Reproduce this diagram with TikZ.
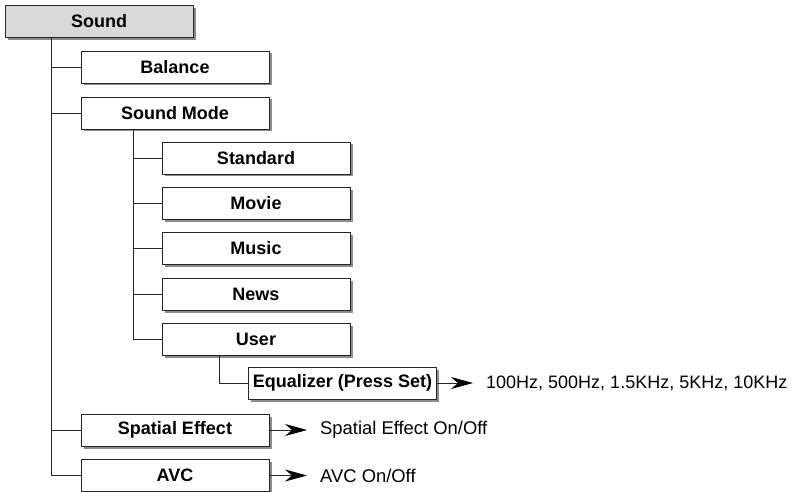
\documentclass[tikz,border=0pt]{standalone}
\usepackage{fontspec}
\setmainfont{Liberation Sans}
\usetikzlibrary{shadows,arrows.meta}
\begin{document}
\begin{tikzpicture}[x=1pt,y=-1pt,
  box/.style={draw=black!85, line width=0.9pt, fill=white, rectangle, minimum width=188pt, minimum height=32pt, inner sep=0pt,
    font=\fontsize{18pt}{20pt}\selectfont\bfseries,
    drop shadow={shadow xshift=2.5pt, shadow yshift=-2.5pt, fill=black!45, opacity=1}},
  rootbox/.style={box, fill=black!15},
  conn/.style={draw=black!85, line width=0.9pt},
  arr/.style={conn, -{Stealth[length=22pt,width=12pt,inset=7pt,color=black]}},
  lbl/.style={anchor=west, inner sep=0pt, font=\fontsize{18.4pt}{20pt}\selectfont}
]
\useasboundingbox (0,0) rectangle (793,492);
\fill[white] (0,0) rectangle (793,492);

\node[rootbox] (sound) at (99,21.5) {Sound};
\node[box] (balance) at (175,67) {Balance};
\node[box] (mode) at (175,113) {Sound Mode};
\node[box] (standard) at (256,158) {Standard};
\node[box] (movie) at (256,203.5) {Movie};
\node[box] (music) at (256,248.5) {Music};
\node[box] (news) at (256,294.5) {News};
\node[box] (user) at (256,339.5) {User};
\node[box] (eq) at (342.5,383) {Equalizer (Press Set)};
\node[box] (spatial) at (175,430) {Spatial Effect};
\node[box] (avc) at (175,475.5) {AVC};

\node[lbl, font=\fontsize{18pt}{20pt}\selectfont] (eqt) at (486,383) {100Hz, 500Hz, 1.5KHz, 5KHz, 10KHz};
\node[lbl] (spt) at (320,430) {Spatial Effect On/Off};
\node[lbl] (avct) at (320,475.5) {AVC On/Off};

\foreach \c in {balance,mode,spatial,avc}
  \draw[conn] ([xshift=47pt]sound.south west) |- (\c.west);
\foreach \c in {standard,movie,music,news,user}
  \draw[conn] ([xshift=53pt]mode.south west) |- (\c.west);
\draw[conn] ([xshift=58pt]user.south west) |- (eq.west);

\draw[arr, shorten >=13pt] (eq.east) -- (eqt.west);
\draw[arr, shorten >=13pt] (spatial.east) -- (spt.west);
\draw[arr, shorten >=13pt] (avc.east) -- (avct.west);
\end{tikzpicture}
\end{document}
